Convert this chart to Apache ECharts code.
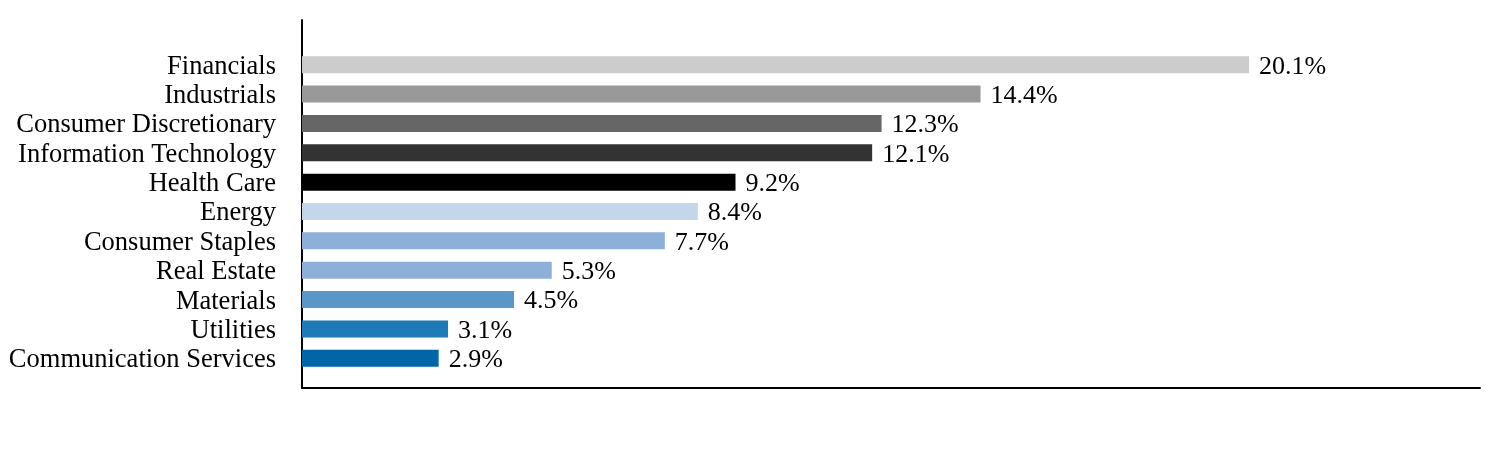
<!DOCTYPE html>
<html>
<head>
<meta charset="utf-8">
<script src="https://cdn.jsdelivr.net/npm/echarts@6/dist/echarts.min.js"></script>
<style>
  html, body { margin: 0; padding: 0; background: #fff; }
  #chart { width: 1512px; height: 456px; }
</style>
</head>
<body>
<div id="chart"></div>
<script>
// sector weights, top to bottom
const sectors = ['Financials', 'Industrials', 'Consumer Discretionary', 'Information Technology',
  'Health Care', 'Energy', 'Consumer Staples', 'Real Estate', 'Materials', 'Utilities',
  'Communication Services'];
const weights = [20.1, 14.4, 12.3, 12.1, 9.2, 8.4, 7.7, 5.3, 4.5, 3.1, 2.9];
const barColors = ['#cccccc', '#999999', '#666666', '#333333', '#000000', '#c5d5ea',
  '#8eb0d8', '#8eb0d8', '#5a96c8', '#1f7bb8', '#0066a8'];

const font = '"Liberation Serif", "Times New Roman", serif';
const myChart = echarts.init(document.getElementById('chart'));

myChart.setOption({
  animation: false,
  grid: [
    // bars
    {left: 302, right: 32, top: 50, bottom: 83},
    // frame lines only
    {left: 302, right: 32, top: 20, bottom: 68.5}
  ],
  xAxis: [
    {type: 'value', gridIndex: 0, min: 0, max: 25, show: false},
    {type: 'value', gridIndex: 1, min: 0, max: 1,
      axisLine: {show: true, onZero: false, lineStyle: {color: '#000', width: 2}},
      axisTick: {show: false}, axisLabel: {show: false}, splitLine: {show: false}}
  ],
  yAxis: [
    {type: 'category', gridIndex: 0, data: sectors, inverse: true,
      axisLine: {show: false}, axisTick: {show: false},
      axisLabel: {interval: 0, color: '#000', fontFamily: font, fontSize: 26.5, margin: 26,
        formatter: '{a|{value}}',
        rich: {a: {color: '#000', fontFamily: font, fontSize: 26.5, padding: [4, 0, 0, 0]}}}},
    {type: 'value', gridIndex: 1, min: 0, max: 1,
      axisLine: {show: true, onZero: false, lineStyle: {color: '#000', width: 2}},
      axisTick: {show: false}, axisLabel: {show: false}, splitLine: {show: false}}
  ],
  series: [{
    type: 'bar',
    xAxisIndex: 0,
    yAxisIndex: 0,
    barWidth: 17,
    data: weights.map((v, i) => ({value: v, itemStyle: {color: barColors[i]}})),
    label: {
      show: true,
      position: 'right',
      distance: 10,
      offset: [0, 2],
      color: '#000',
      fontFamily: font,
      fontSize: 26,
      formatter: p => p.value.toFixed(1) + '%'
    }
  }]
});
window.addEventListener('resize', () => myChart.resize());
</script>
</body>
</html>
